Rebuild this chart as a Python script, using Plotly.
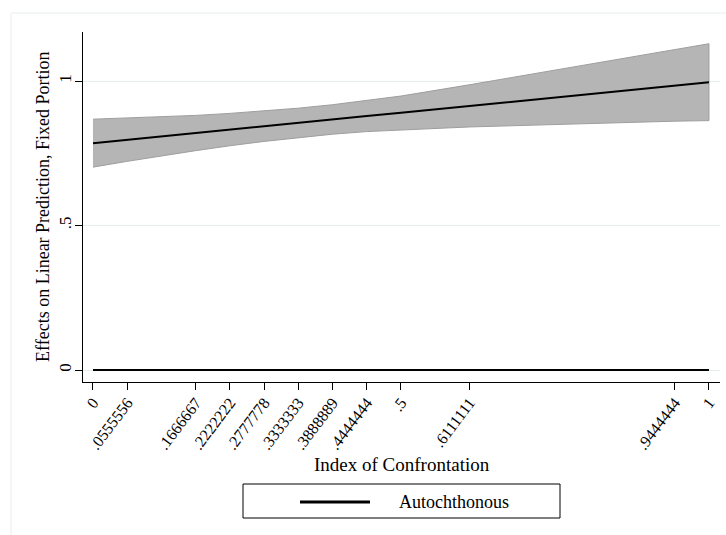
import plotly.graph_objects as go

# ---- data ----
x_vals = [0, 0.0555556, 0.1666667, 0.2222222, 0.2777778, 0.3333333,
          0.3888889, 0.4444444, 0.5, 0.6111111, 0.9444444, 1]
x_labels = ["0", ".0555556", ".1666667", ".2222222", ".2777778", ".3333333",
            ".3888889", ".4444444", ".5", ".6111111", ".9444444", "1"]
prediction = [0.785, 0.797, 0.820, 0.832, 0.844, 0.855,
              0.867, 0.879, 0.890, 0.914, 0.984, 0.996]
ci_upper = [0.868, 0.872, 0.881, 0.888, 0.896, 0.906,
            0.918, 0.933, 0.948, 0.987, 1.107, 1.129]
ci_lower = [0.702, 0.722, 0.759, 0.776, 0.791, 0.804,
            0.816, 0.825, 0.832, 0.841, 0.861, 0.863]
baseline = [0, 0, 0, 0, 0, 0, 0, 0, 0, 0, 0, 0]
y_ticks = [0, 0.5, 1]
y_labels = ["0", ".5", "1"]
legend_label = "Autochthonous"
x_title = "Index of Confrontation"
y_title = "Effects on Linear Prediction, Fixed Portion"

W, H = 726, 535
L, R, T, B = 83, 6, 32, 153
pw, ph = W - L - R, H - T - B


def px(xp):
    return (xp - L) / pw


def py(yp):
    return (H - B - yp) / ph


FONT = "Liberation Serif, Times New Roman, serif"

fig = go.Figure()

# confidence band (closed polygon)
fig.add_trace(go.Scatter(
    x=x_vals + x_vals[::-1],
    y=ci_upper + ci_lower[::-1],
    fill="toself", fillcolor="#b5b5b5",
    line=dict(color="#9e9e9e", width=1),
    mode="lines", hoverinfo="skip", showlegend=False,
))
# prediction line
fig.add_trace(go.Scatter(
    x=x_vals, y=prediction, mode="lines",
    line=dict(color="black", width=2), showlegend=False,
))
# reference group at zero
fig.add_trace(go.Scatter(
    x=x_vals, y=baseline, mode="lines", name=legend_label,
    line=dict(color="black", width=2), showlegend=False,
))

shapes = [
    # outer graph-region frame
    dict(type="rect", xref="paper", yref="paper",
         x0=px(11), x1=px(760), y0=py(570), y1=py(13),
         line=dict(color="#e8eeee", width=1), fillcolor="rgba(0,0,0,0)",
         layer="below"),
    # legend box
    dict(type="rect", xref="paper", yref="paper",
         x0=px(243), x1=px(560), y0=py(518), y1=py(484),
         line=dict(color="black", width=1), fillcolor="white"),
    # legend key
    dict(type="line", xref="paper", yref="paper",
         x0=px(300), x1=px(370), y0=py(502), y1=py(502),
         line=dict(color="black", width=3)),
]

annotations = [
    dict(text=legend_label, xref="paper", yref="paper",
         x=px(397), y=py(502), xanchor="left", yanchor="middle",
         showarrow=False, font=dict(family=FONT, size=18, color="black")),
    dict(text=x_title, xref="paper", yref="paper",
         x=0.5, y=py(464), xanchor="center", yanchor="middle",
         showarrow=False, font=dict(family=FONT, size=19, color="black")),
    dict(text=y_title, xref="paper", yref="paper", textangle=-90,
         x=px(43), y=0.5, xanchor="center", yanchor="middle",
         showarrow=False, font=dict(family=FONT, size=18, color="black")),
]

fig.update_layout(
    width=W, height=H,
    margin=dict(l=L, r=R, t=T, b=B),
    paper_bgcolor="white", plot_bgcolor="white",
    shapes=shapes, annotations=annotations,
    font=dict(family=FONT, color="black"),
    showlegend=False,
)

fig.update_xaxes(
    range=[-0.0162, 1.0179],
    tickmode="array", tickvals=x_vals, ticktext=x_labels,
    tickangle=-53, tickfont=dict(family=FONT, size=16),
    ticks="outside", ticklen=7, tickcolor="black", tickwidth=1,
    ticklabelstandoff=-3,
    showline=True, linecolor="black", linewidth=1,
    showgrid=False, zeroline=False,
)
fig.update_yaxes(
    range=[-0.0415, 1.1696],
    tickmode="array", tickvals=y_ticks, ticktext=y_labels,
    tickangle=-90, tickfont=dict(family=FONT, size=17),
    ticks="outside", ticklen=7, tickcolor="black", tickwidth=1,
    ticklabelstandoff=-3,
    showline=True, linecolor="black", linewidth=1,
    showgrid=True, gridcolor="#e6eeee", gridwidth=1, zeroline=False,
)

fig.write_html("out.html")
